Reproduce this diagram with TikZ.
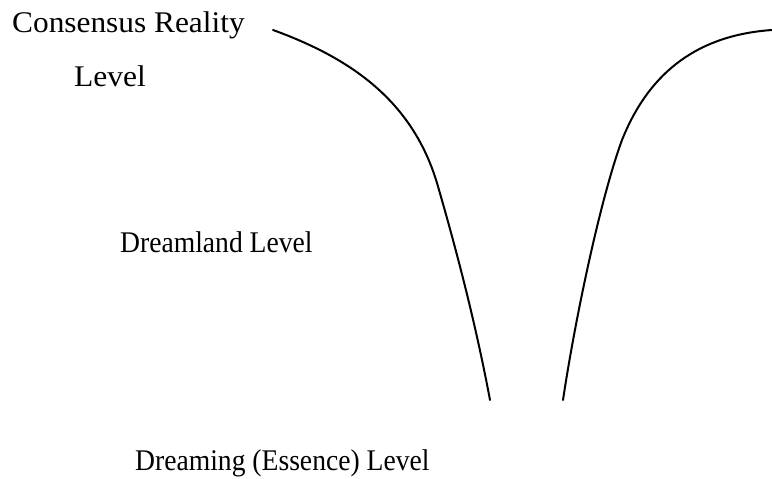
\documentclass[tikz,border=0pt]{standalone}
\usepackage{fontspec}
\setmainfont{Liberation Serif}
\usepackage{tikz}
\newcommand{\lvltext}[2]{\scalebox{#1}[1]{#2}}

\begin{document}
\begin{tikzpicture}[x=1pt,y=-1pt,
  lvl/.style={anchor=base west,inner sep=0pt,font=\fontsize{30}{36}\selectfont},
  wall/.style={line width=2pt,line cap=round}]
\useasboundingbox (0,0) rectangle (772,479);
\node[lvl] (consensus) at (12,32) {\lvltext{1.045}{Consensus Reality}};
\node[lvl] (consensuslvl) at (74,86) {\lvltext{1.05}{Level}};
\node[lvl] (dreamland) at (120,252) {\lvltext{0.92}{Dreamland Level}};
\node[lvl] (dreaming) at (135,470) {\lvltext{0.92}{Dreaming (Essence) Level}};
% the two walls of the funnel
\draw[wall] (273,30) .. controls (350,58) and (412,100) .. (437,183)
  .. controls (455,245) and (475,320) .. (490,400);
\draw[wall] (772,30) .. controls (700,35) and (650,70) .. (622,140)
  .. controls (600,200) and (575,320) .. (563,400);
\end{tikzpicture}
\end{document}
